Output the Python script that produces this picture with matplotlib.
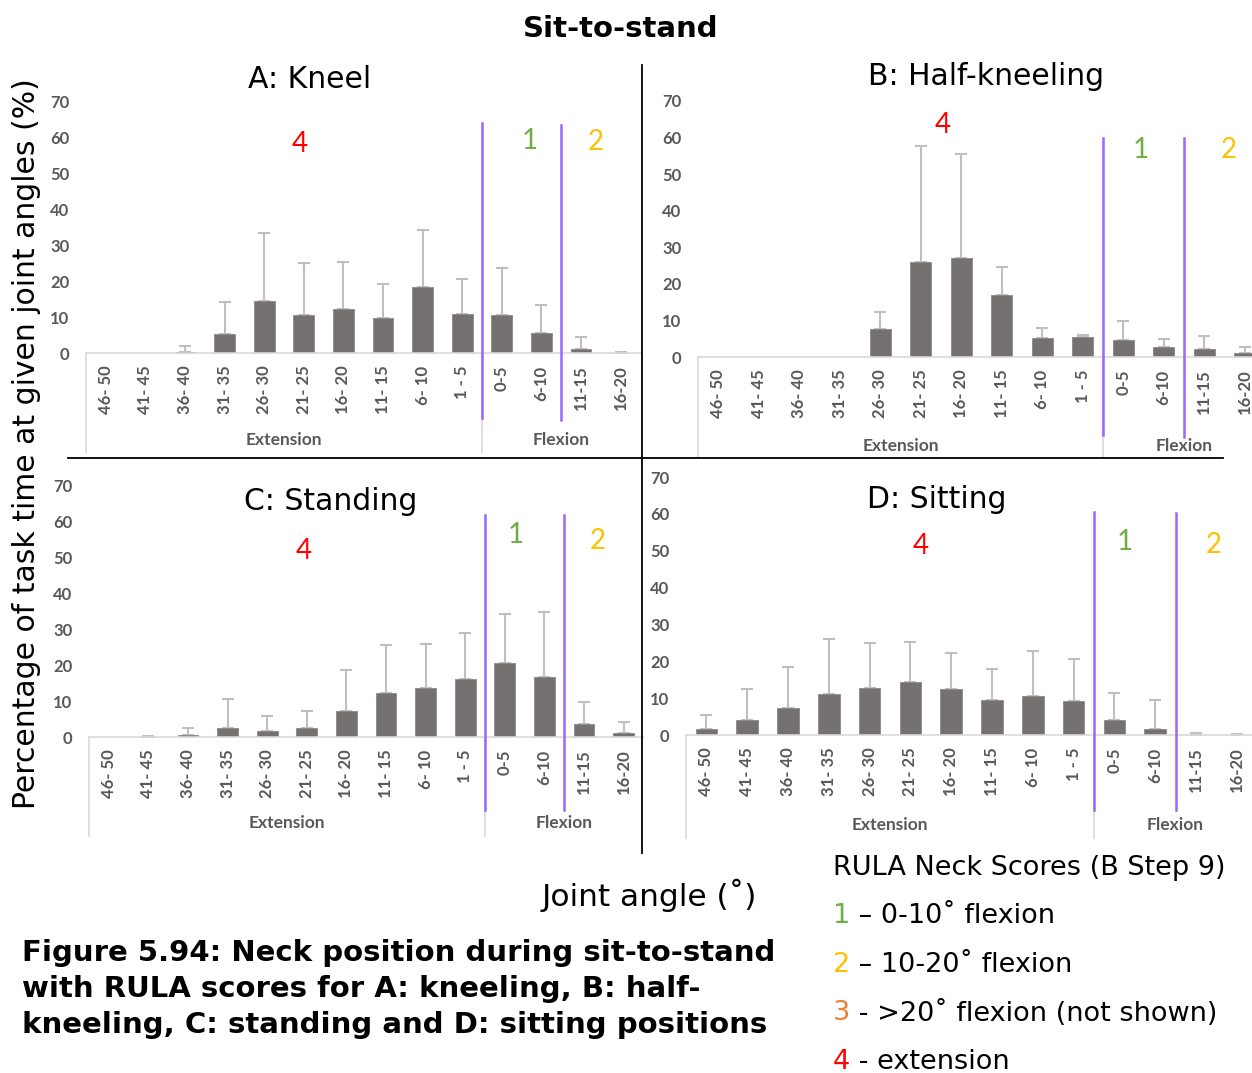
import matplotlib
matplotlib.use('Agg')
import matplotlib.pyplot as plt
from matplotlib.lines import Line2D
import numpy as np

# Joint angle categories (5 degree bins)
categories = ['46- 50', '41- 45', '36- 40', '31- 35', '26- 30', '21- 25', '16- 20',
              '11- 15', '6- 10', '1 - 5', '0-5', '6-10', '11-15', '16-20']

# Mean percentage of task time, and upper SD
kneel_mean = [0, 0, 0.4, 5.3, 14.4, 10.6, 12.3, 9.7, 18.3, 10.8, 10.5, 5.6, 1.2, 0.1]
kneel_sd = [0, 0, 1.5, 9.0, 19.0, 14.5, 13.2, 9.6, 16.1, 9.8, 13.2, 7.9, 3.3, 0.2]

half_mean = [0, 0, 0, 0, 7.7, 25.9, 27.0, 16.9, 5.2, 5.6, 4.7, 2.6, 2.2, 1.0]
half_sd = [0, 0, 0, 0, 4.5, 31.8, 28.4, 7.7, 2.6, 0.3, 5.2, 2.2, 3.5, 1.6]

stand_mean = [0, 0.05, 0.5, 2.6, 1.7, 2.6, 7.2, 12.3, 13.7, 16.2, 20.5, 16.8, 3.5, 1.2]
stand_sd = [0, 0.2, 2.0, 8.1, 4.2, 4.7, 11.4, 13.3, 12.2, 12.8, 13.8, 18.1, 6.4, 2.9]

sit_mean = [1.7, 4.0, 7.2, 11.1, 12.7, 14.5, 12.6, 9.4, 10.7, 9.1, 4.2, 1.7, 0.1, 0.05]
sit_sd = [3.7, 8.6, 11.2, 14.9, 12.2, 10.6, 9.7, 8.6, 12.1, 11.4, 7.3, 7.8, 0.5, 0.35]

W, H = 1252, 1073
fig = plt.figure(figsize=(W / 100, H / 100), dpi=100, facecolor='white')

BAR = '#767171'
ERR = '#BFBFBF'
TICK = '#595959'
PURPLE = '#9966FF'
RED, GREEN, ORANGE, DARKORANGE = '#FF0000', '#70AD47', '#FFC000', '#ED7D31'
tick_font = ['Lato', 'DejaVu Sans']


def ftext(x, y, s, **kw):
    kw.setdefault('ha', 'center')
    kw.setdefault('va', 'center')
    return fig.text(x / W, 1 - y / H, s, **kw)


def panel(left, step, y0, y70, mean, sd, title, title_xy, score_xy,
          purple, bracket_bottom, group_y):
    ax = fig.add_axes([left / W, 1 - y0 / H, 14 * step / W, (y0 - y70) / H])
    x = np.arange(len(categories))
    mean = np.array(mean)
    sd = np.array(sd)
    ax.bar(x, mean, width=0.53, color=BAR, edgecolor='#8C8888', linewidth=0.6, zorder=2)
    m = sd > 0
    ax.errorbar(x[m], mean[m], yerr=[np.zeros(m.sum()), sd[m]], fmt='none',
                ecolor=ERR, elinewidth=1.5, capsize=4, capthick=1.5, zorder=1)
    ax.set_xlim(-0.5, 13.5)
    ax.set_ylim(0, 70)
    ax.set_yticks(range(0, 80, 10))
    ax.set_xticks(x)
    ax.set_xticklabels(categories, rotation=90, va='top', ha='center')
    ax.tick_params(axis='y', length=0, pad=12, labelsize=12, labelcolor=TICK)
    ax.tick_params(axis='x', length=0, pad=9, labelsize=12, labelcolor=TICK)
    for lab in ax.get_xticklabels() + ax.get_yticklabels():
        lab.set_family(tick_font)
        lab.set_fontweight('bold')
    for s in ['left', 'right', 'top']:
        ax.spines[s].set_visible(False)
    ax.spines['bottom'].set_color('#D9D9D9')
    ax.spines['bottom'].set_linewidth(1.2)
    ax.patch.set_alpha(0)

    tr = ax.get_xaxis_transform()
    frac = lambda ypx: (y0 - ypx) / (y0 - y70)
    # category group brackets
    for xb in [-0.5, 9.5]:
        ax.plot([xb, xb], [0, frac(bracket_bottom)], transform=tr, color='#D9D9D9',
                lw=1.2, clip_on=False)
    ax.text(4.5, frac(group_y), 'Extension', transform=tr, ha='center', va='center',
            fontsize=12.5, color=TICK, fontweight='bold', family=tick_font)
    ax.text(11.5, frac(group_y), 'Flexion', transform=tr, ha='center', va='center',
            fontsize=12.5, color=TICK, fontweight='bold', family=tick_font)
    # RULA score boundaries
    for xb, (top, bot) in zip([9.5, 11.5], purple):
        ax.plot([xb, xb], [frac(top), frac(bot)], transform=tr, color=PURPLE,
                lw=1.8, clip_on=False, zorder=3)

    ftext(*title_xy, title, fontsize=21.5)
    for (sx, sy), s, c in zip(score_xy, ['4', '1', '2'], [RED, GREEN, ORANGE]):
        ftext(sx, sy, s, fontsize=20, color=c, family=tick_font)
    return ax


panel(86, 39.6, 353, 102, kneel_mean, kneel_sd, 'A: Kneel', (310, 80),
      [(300, 144), (530, 141), (596, 142)], [(123, 418), (125, 420)], 452, 440)
panel(698, 40.5, 357, 101, half_mean, half_sd, 'B: Half-kneeling', (986, 76),
      [(943, 125), (1141, 150), (1229, 150)], [(138, 435), (138, 437)], 457, 446)
panel(89, 39.6, 737, 486, stand_mean, stand_sd, 'C: Standing', (331, 502),
      [(304, 551), (516, 535), (598, 541)], [(515, 810), (515, 810)], 836, 823)
panel(686, 40.8, 735, 477, sit_mean, sit_sd, 'D: Sitting', (937, 500),
      [(921, 546), (1125, 542), (1214, 545)], [(512, 810), (513, 810)], 838, 825)

# panel dividers
fig.add_artist(Line2D([68 / W, 1223 / W], [1 - 457.7 / H] * 2, color='black', lw=1.3))
fig.add_artist(Line2D([641.5 / W] * 2, [1 - 65 / H, 1 - 853 / H], color='black', lw=1.3))

ftext(621, 29, 'Sit-to-stand', fontsize=21, fontweight='bold')
ftext(27, 444, 'Percentage of task time at given joint angles (%)', fontsize=21.5, rotation=90)
ftext(649, 895, 'Joint angle (˚)', fontsize=22.5)

caption = ['Figure 5.94: Neck position during sit-to-stand',
           'with RULA scores for A: kneeling, B: half-',
           'kneeling, C: standing and D: sitting positions']
for i, line in enumerate(caption):
    ftext(22, 953 + 36 * i, line, fontsize=21, fontweight='bold', ha='left')

ftext(833, 868, 'RULA Neck Scores (B Step 9)', fontsize=19.5, ha='left')
legend_nums = ['1', '2', '3', '4']
legend_cols = [GREEN, ORANGE, DARKORANGE, RED]
legend_txt = [' – 0-10˚ flexion', ' – 10-20˚ flexion', ' - >20˚ flexion (not shown)', ' - extension']
for i, (n, c, t) in enumerate(zip(legend_nums, legend_cols, legend_txt)):
    y = 916 + 48.7 * i
    ftext(833, y, n, fontsize=19.5, color=c, ha='left')
    ftext(850, y, t, fontsize=19.5, ha='left')

fig.savefig('out.png', dpi=100, facecolor='white')
